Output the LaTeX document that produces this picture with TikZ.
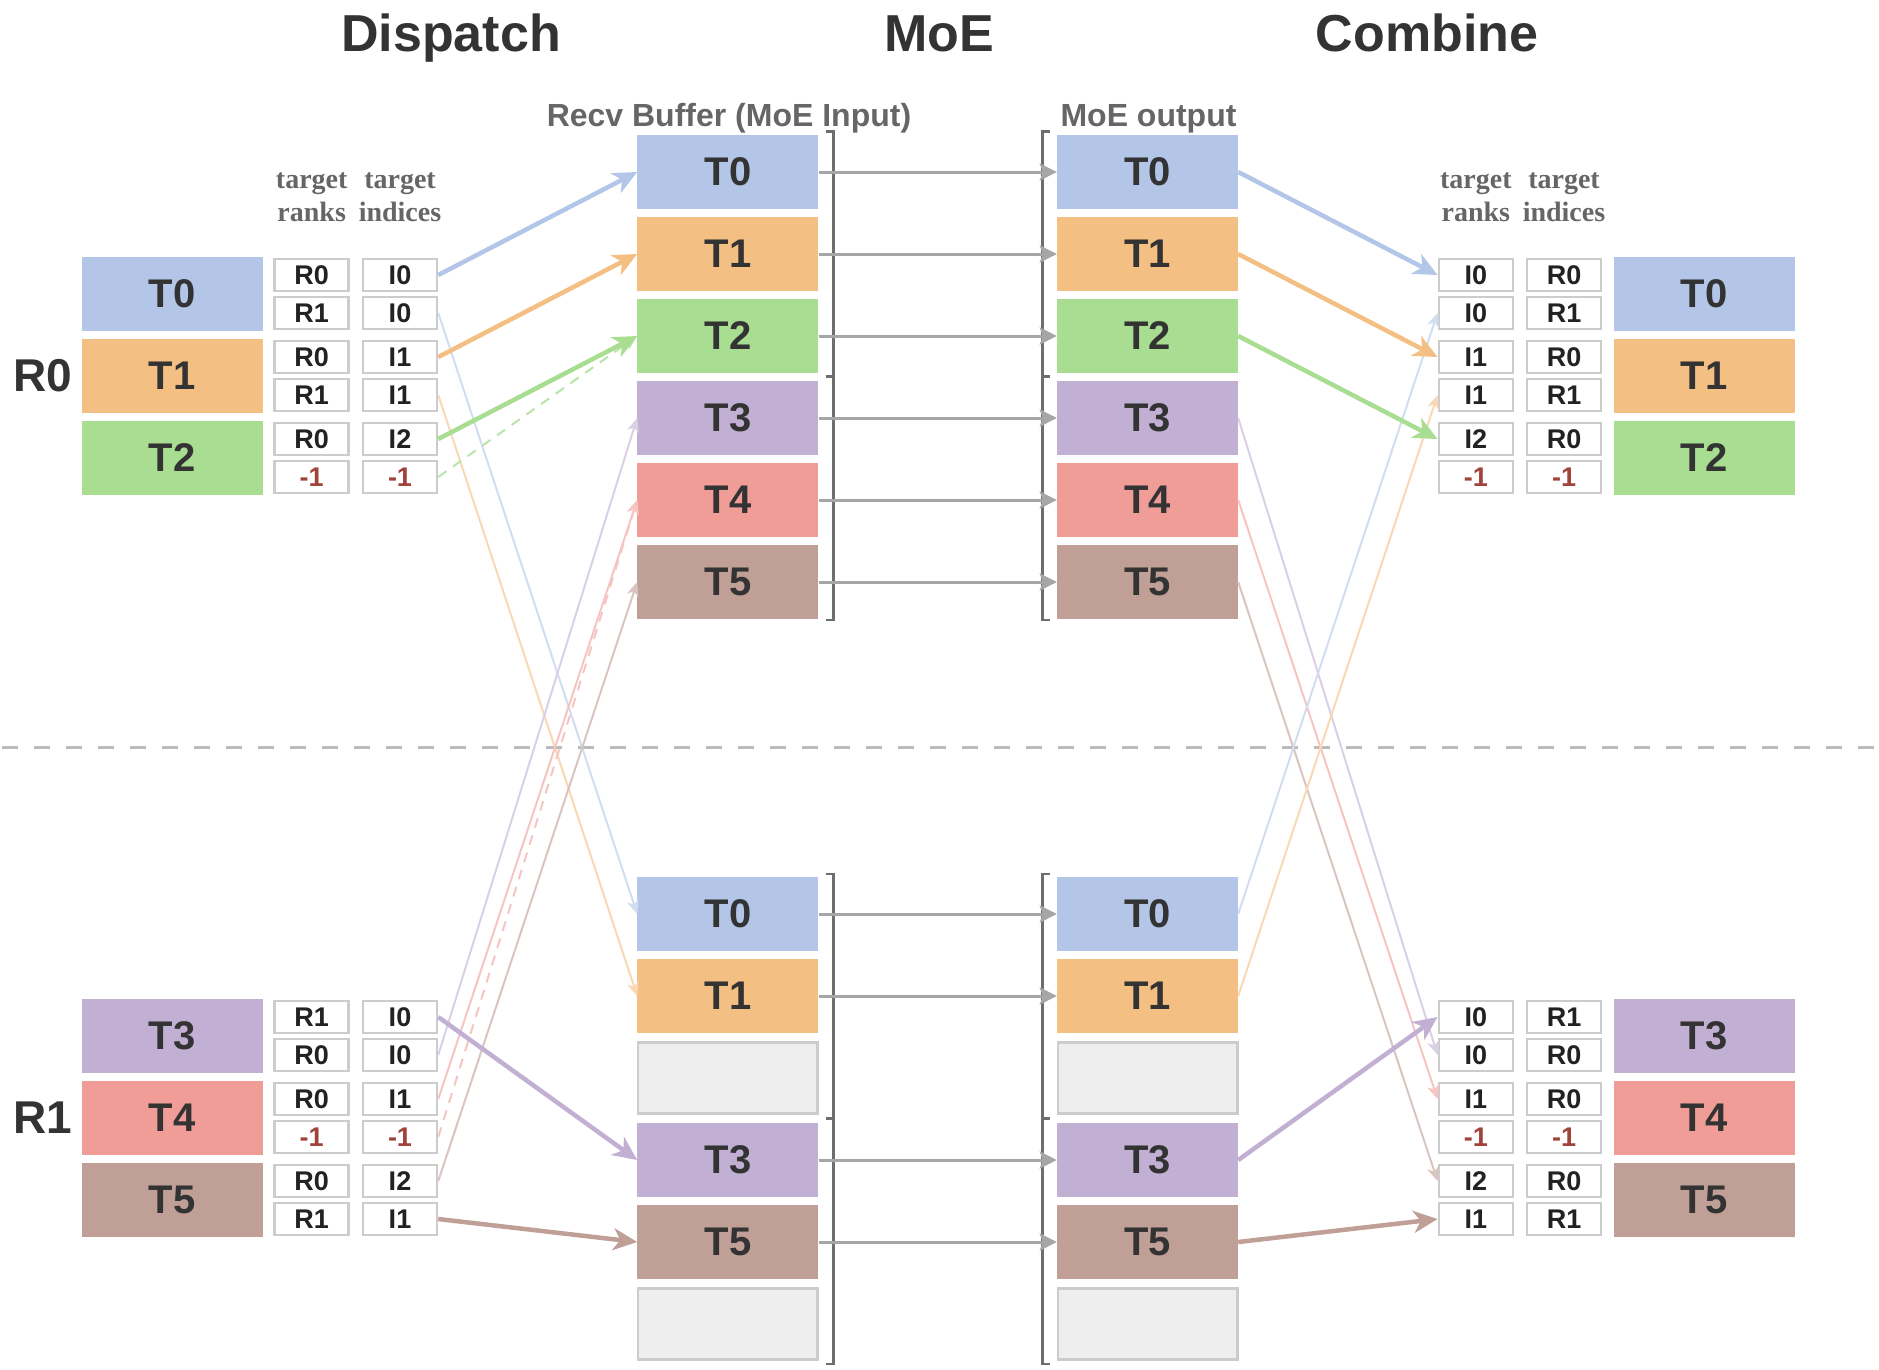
\documentclass[tikz,border=0pt]{standalone}
\usepackage{fontspec}
\setmainfont{Liberation Sans}
\newfontfamily\hdrfont{Liberation Serif}
\usetikzlibrary{arrows.meta}

\definecolor{cblue}{HTML}{B3C6E7}
\definecolor{corange}{HTML}{F4BF82}
\definecolor{cgreen}{HTML}{A8DD92}
\definecolor{cpurple}{HTML}{C2B0D4}
\definecolor{cred}{HTML}{F09D98}
\definecolor{cbrown}{HTML}{BF9F96}
\colorlet{tblue}{cblue!60!white}
\colorlet{torange}{corange!60!white}
\colorlet{tgreen}{cgreen!80!white}
\colorlet{tpurple}{cpurple!60!white}
\colorlet{tred}{cred!60!white}
\colorlet{tbrown}{cbrown!60!white}
\definecolor{cellgray}{HTML}{CCCCCC}
\definecolor{emptyfill}{HTML}{EEEEEE}
\definecolor{txtdark}{HTML}{333333}
\definecolor{celltxt}{HTML}{222222}
\definecolor{negred}{HTML}{A0433A}
\definecolor{hdrgray}{HTML}{666666}
\definecolor{arrgray}{HTML}{A6A6A6}
\definecolor{brkgray}{HTML}{6E6E6E}
\definecolor{divgray}{HTML}{BBBBBB}

\newcommand\negone{\textcolor{negred}{-1}}

\begin{document}
\begin{tikzpicture}[x=1pt,y=-1pt,
 tokbox/.style={minimum width=181pt,minimum height=73.5pt,inner sep=0pt,font=\fontsize{40}{48}\selectfont\bfseries,text=txtdark},
 cellbox/.style={draw=cellgray,line width=2.5pt,fill=white,minimum width=74pt,minimum height=31.8pt,inner sep=0pt,font=\fontsize{27}{32}\selectfont\bfseries,text=celltxt},
 emptybox/.style={draw=cellgray,line width=2.5pt,fill=emptyfill,minimum width=179.5pt,minimum height=71pt,inner sep=0pt},
 ttl/.style={font=\fontsize{52}{60}\selectfont\bfseries,text=txtdark,anchor=base,inner sep=0pt},
 subttl/.style={font=\fontsize{32}{38}\selectfont\bfseries,text=hdrgray,anchor=base,inner sep=0pt},
 hdrtxt/.style={font=\hdrfont\fontsize{28}{33}\selectfont\bfseries,text=hdrgray,anchor=base,inner sep=0pt},
 ranklbl/.style={font=\fontsize{46}{54}\selectfont\bfseries,text=txtdark,inner sep=0pt},
 bigarr/.style={line width=4.5pt,-{Stealth[length=24pt,width=22pt,inset=7pt]}},
 smallarr/.style={line width=2pt,-{Stealth[length=14pt,width=12pt,inset=4pt]}},
 dasharr/.style={smallarr,dash pattern=on 10pt off 8pt},
 passarr/.style={draw=arrgray,line width=3pt,-{Stealth[length=17pt,width=17pt,inset=3pt]}},
 brkline/.style={draw=brkgray,line width=2.5pt},
]
\useasboundingbox (0,0) rectangle (1879,1369);

% divider
\draw[divgray,line width=2.5pt,dash pattern=on 16pt off 16pt] (2,747.7) -- (1879,747.7);

% titles
\node[ttl] (tDispatch) at (451,51.7) {Dispatch};
\node[ttl] (tMoE) at (939,51.7) {MoE};
\node[ttl] (tCombine) at (1427,51.7) {Combine};
\node[subttl] (sRecv) at (729,126) {Recv Buffer (MoE Input)};
\node[subttl] (sOut) at (1148.5,126) {MoE output};

% rank labels
\node[ranklbl] (R0lbl) at (43,376) {R0};
\node[ranklbl] (R1lbl) at (43,1118) {R1};

% headers
\node[hdrtxt] (hA1) at (311.7,188) {target};
\node[hdrtxt] (hA2) at (311.7,221.7) {ranks};
\node[hdrtxt] (hB1) at (400,188) {target};
\node[hdrtxt] (hB2) at (400,221.7) {indices};
\node[hdrtxt] (hC1) at (1475.8,188) {target};
\node[hdrtxt] (hC2) at (1475.8,221.7) {ranks};
\node[hdrtxt] (hD1) at (1564,188) {target};
\node[hdrtxt] (hD2) at (1564,221.7) {indices};

% left tokens
\node[tokbox,fill=cblue] (LT0) at (172,294) {T0};
\node[tokbox,fill=corange] (LT1) at (172,376) {T1};
\node[tokbox,fill=cgreen] (LT2) at (172,458) {T2};
\node[tokbox,fill=cpurple] (LT3) at (172,1036) {T3};
\node[tokbox,fill=cred] (LT4) at (172,1118) {T4};
\node[tokbox,fill=cbrown] (LT5) at (172,1200) {T5};

% combine tokens
\node[tokbox,fill=cblue] (CT0) at (1704,294) {T0};
\node[tokbox,fill=corange] (CT1) at (1704,376) {T1};
\node[tokbox,fill=cgreen] (CT2) at (1704,458) {T2};
\node[tokbox,fill=cpurple] (CT3) at (1704,1036) {T3};
\node[tokbox,fill=cred] (CT4) at (1704,1118) {T4};
\node[tokbox,fill=cbrown] (CT5) at (1704,1200) {T5};

% dispatch cells
\foreach \y/\a/\b [count=\i] in {275/R0/I0,313/R1/I0,357/R0/I1,395/R1/I1,439/R0/I2,477/\negone/\negone,1017/R1/I0,1055/R0/I0,1099/R0/I1,1137/\negone/\negone,1181/R0/I2,1219/R1/I1}{
  \node[cellbox] (dr\i) at (311.7,\y) {\a};
  \node[cellbox] (di\i) at (400,\y) {\b};
}
% combine cells
\foreach \y/\a/\b [count=\i] in {275/I0/R0,313/I0/R1,357/I1/R0,395/I1/R1,439/I2/R0,477/\negone/\negone,1017/I0/R1,1055/I0/R0,1099/I1/R0,1137/\negone/\negone,1181/I2/R0,1219/I1/R1}{
  \node[cellbox] (ci\i) at (1475.8,\y) {\a};
  \node[cellbox] (cr\i) at (1564,\y) {\b};
}

% recv buffer & MoE output, upper
\foreach \c/\t [count=\i] in {cblue/T0,corange/T1,cgreen/T2,cpurple/T3,cred/T4,cbrown/T5}{
  \node[tokbox,fill=\c] (ra\i) at (727.9,{172+82*(\i-1)}) {\t};
  \node[tokbox,fill=\c] (ma\i) at (1147.5,{172+82*(\i-1)}) {\t};
}
% lower
\node[tokbox,fill=cblue] (rb1) at (727.9,914) {T0};
\node[tokbox,fill=corange] (rb2) at (727.9,996) {T1};
\node[emptybox] (rb3) at (727.9,1078) {};
\node[tokbox,fill=cpurple] (rb4) at (727.9,1160) {T3};
\node[tokbox,fill=cbrown] (rb5) at (727.9,1242) {T5};
\node[emptybox] (rb6) at (727.9,1324) {};
\node[tokbox,fill=cblue] (mb1) at (1147.5,914) {T0};
\node[tokbox,fill=corange] (mb2) at (1147.5,996) {T1};
\node[emptybox] (mb3) at (1147.5,1078) {};
\node[tokbox,fill=cpurple] (mb4) at (1147.5,1160) {T3};
\node[tokbox,fill=cbrown] (mb5) at (1147.5,1242) {T5};
\node[emptybox] (mb6) at (1147.5,1324) {};

% brackets
\draw[brkline] (826,131.7) -- (833.3,131.7) -- (833.3,376.7) -- (826,376.7);
\draw[brkline] (826,376.7) -- (833.3,376.7) -- (833.3,620) -- (826,620);
\draw[brkline] (826,874) -- (833.3,874) -- (833.3,1118.3) -- (826,1118.3);
\draw[brkline] (826,1118.3) -- (833.3,1118.3) -- (833.3,1364) -- (826,1364);
\draw[brkline] (1049.5,131.7) -- (1042.3,131.7) -- (1042.3,376.7) -- (1049.5,376.7);
\draw[brkline] (1049.5,376.7) -- (1042.3,376.7) -- (1042.3,620) -- (1049.5,620);
\draw[brkline] (1049.5,874) -- (1042.3,874) -- (1042.3,1118.3) -- (1049.5,1118.3);
\draw[brkline] (1049.5,1118.3) -- (1042.3,1118.3) -- (1042.3,1364) -- (1049.5,1364);

% pass-through arrows
\foreach \i in {1,...,6}{ \draw[passarr] (ra\i.east) -- (ma\i.west); }
\foreach \i in {1,2,4,5}{ \draw[passarr] (rb\i.east) -- (mb\i.west); }

% dispatch connectors
\draw[smallarr,draw=tblue] (di2.east) -- (rb1.west);
\draw[smallarr,draw=torange] (di4.east) -- (rb2.west);
\draw[smallarr,draw=tpurple] (di8.east) -- (ra4.west);
\draw[smallarr,draw=tred] (di9.east) -- (ra5.west);
\draw[dasharr,draw=tred] (di10.east) -- (ra5.west);
\draw[smallarr,draw=tbrown] (di11.east) -- (ra6.west);
\draw[dasharr,draw=tgreen] (di6.east) -- (ra3.west);
\draw[bigarr,draw=cblue] (di1.east) -- (ra1.west);
\draw[bigarr,draw=corange] (di3.east) -- (ra2.west);
\draw[bigarr,draw=cgreen] (di5.east) -- (ra3.west);
\draw[bigarr,draw=cpurple] (di7.east) -- (rb4.west);
\draw[bigarr,draw=cbrown] (di12.east) -- (rb5.west);

% combine connectors
\draw[smallarr,draw=tpurple] (ma4.east) -- (ci8.west);
\draw[smallarr,draw=tred] (ma5.east) -- (ci9.west);
\draw[smallarr,draw=tbrown] (ma6.east) -- (ci11.west);
\draw[smallarr,draw=tblue] (mb1.east) -- (ci2.west);
\draw[smallarr,draw=torange] (mb2.east) -- (ci4.west);
\draw[bigarr,draw=cblue] (ma1.east) -- (ci1.west);
\draw[bigarr,draw=corange] (ma2.east) -- (ci3.west);
\draw[bigarr,draw=cgreen] (ma3.east) -- (ci5.west);
\draw[bigarr,draw=cpurple] (mb4.east) -- (ci7.west);
\draw[bigarr,draw=cbrown] (mb5.east) -- (ci12.west);
\end{tikzpicture}
\end{document}
